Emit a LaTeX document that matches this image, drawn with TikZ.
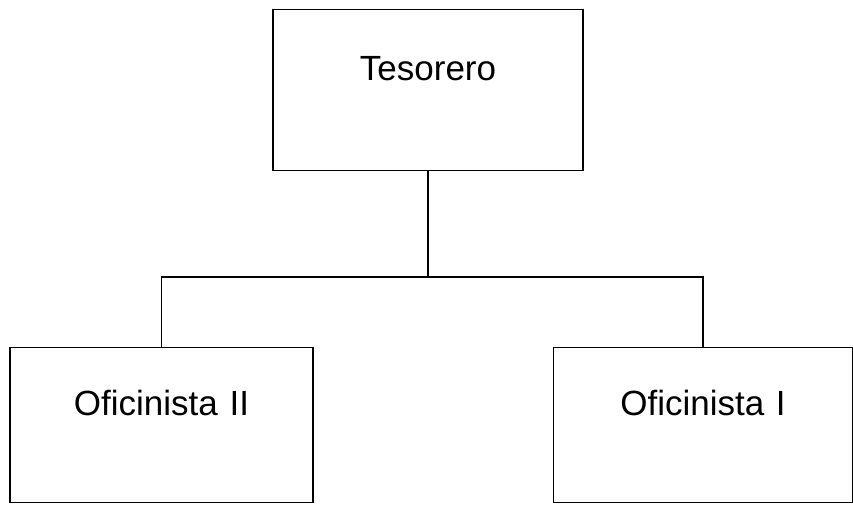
\documentclass[tikz,border=0pt]{standalone}
\usepackage{fontspec}
\setmainfont{Liberation Sans}
\usepackage{tikz}
\usetikzlibrary{positioning}

\tikzset{
    puesto/.style={draw, line width=1.3pt, inner sep=0pt, anchor=north,
        align=center, font=\fontsize{35}{42}\selectfont},
    linea/.style={line width=1.3pt}
}

\begin{document}
\begin{tikzpicture}[x=1pt, y=-1pt]
        \useasboundingbox (0,0) rectangle (853,504);

        \node[puesto, text width=310pt, text height=71pt, text depth=90pt] (tesorero) at (428,9) {Tesorero};
        \node[puesto, text width=303pt, text height=68pt, text depth=87pt] (ofi2) at (161.5,347) {Oficinista II};
        \node[puesto, text width=299pt, text height=68pt, text depth=87pt] (ofi1) at (703,347) {Oficinista I};

        \coordinate (rama) at (428,277);
        \draw[linea] (tesorero.south) -- (rama);
        \draw[linea] (ofi2.north) |- (rama) -| (ofi1.north);

    \end{tikzpicture}
\end{document}
